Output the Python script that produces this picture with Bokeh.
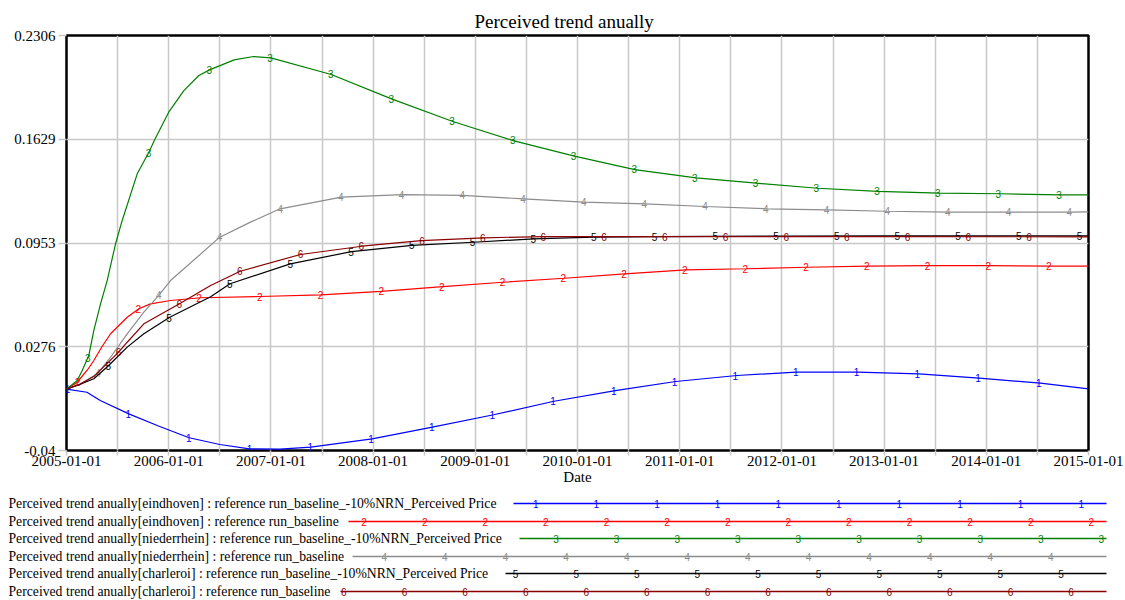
import numpy as np
from bokeh.plotting import figure
from bokeh.models import Range1d, FixedTicker
from bokeh.layouts import column
from bokeh.embed import file_html
from bokeh.resources import INLINE
from bokeh.core.properties import value

# ---------------- data ----------------
TITLE = "Perceived trend anually"
X_LABEL = "Date"
years = list(range(2005, 2016))
x_tick_labels = [f"{y}-01-01" for y in years]
half_years = [y + 0.5 for y in range(2005, 2015)]
y_ticks = [-0.04, 0.0276, 0.0953, 0.1629, 0.2306]
y_tick_labels = ["-0.04", "0.0276", "0.0953", "0.1629", "0.2306"]

series_names = [
    "Perceived trend anually[eindhoven] : reference run_baseline_-10%NRN_Perceived Price",
    "Perceived trend anually[eindhoven] : reference run_baseline",
    "Perceived trend anually[niederrhein] : reference run_baseline_-10%NRN_Perceived Price",
    "Perceived trend anually[niederrhein] : reference run_baseline",
    "Perceived trend anually[charleroi] : reference run_baseline_-10%NRN_Perceived Price",
    "Perceived trend anually[charleroi] : reference run_baseline",
]
series_marks = ["1", "2", "3", "4", "5", "6"]
series_colors = ["#0000ff", "#ff0000", "#008000", "#8c8c8c", "#000000", "#8b0000"]

t1 = [2005.0, 2005.2, 2005.33, 2005.61, 2005.90, 2006.20, 2006.50, 2006.79, 2007.09, 2007.39,
      2007.99, 2008.58, 2009.18, 2009.77, 2010.37, 2010.96, 2011.56, 2012.14, 2012.74, 2013.34,
      2013.93, 2014.53, 2015.0]
v1 = [0.0, -0.002, -0.0074, -0.0161, -0.0240, -0.0317, -0.0361, -0.0389, -0.0391, -0.0378,
      -0.0324, -0.0248, -0.0167, -0.0079, -0.0009, 0.0050, 0.0089, 0.0111, 0.0111, 0.0100,
      0.0072, 0.0039, 0.0002]

t2 = [2005.0, 2005.105, 2005.21, 2005.267, 2005.35, 2005.431, 2005.594, 2005.708, 2005.822,
      2006.018, 2006.312, 2006.89, 2007.49, 2008.08, 2008.68, 2009.27, 2009.87, 2010.46, 2011.06,
      2011.65, 2012.24, 2012.84, 2013.43, 2014.03, 2014.62, 2015.0]
v2 = [0.0, 0.0045, 0.0130, 0.0187, 0.0280, 0.0361, 0.0469, 0.0524, 0.0556,
      0.0578, 0.0596, 0.0604, 0.0615, 0.0637, 0.0669, 0.0697, 0.0723, 0.0752, 0.0778,
      0.0785, 0.0795, 0.0802, 0.0806, 0.0806, 0.0802, 0.0802]

t3 = [2005.0, 2005.105, 2005.154, 2005.218, 2005.267, 2005.333, 2005.398, 2005.48, 2005.545,
      2005.692, 2005.806, 2005.864, 2006.0, 2006.148, 2006.295, 2006.40, 2006.64, 2006.83, 2007.0,
      2007.59, 2008.18, 2008.78, 2009.37, 2009.97, 2010.56, 2011.16, 2011.75, 2012.35, 2012.94,
      2013.54, 2014.13, 2014.72, 2015.0]
v3 = [0.0, 0.0056, 0.0122, 0.0219, 0.0382, 0.0556, 0.0708, 0.0948, 0.1100,
      0.1404, 0.1545, 0.1628, 0.1806, 0.1947, 0.2045, 0.2082, 0.2147, 0.2169, 0.2160,
      0.2052, 0.1893, 0.1745, 0.1621, 0.1519, 0.1432, 0.1378, 0.1343, 0.1310, 0.1289,
      0.1278, 0.1274, 0.1267, 0.1267]

t4 = [2005.0, 2005.14, 2005.30, 2005.431, 2005.594, 2005.757, 2005.903, 2006.018, 2006.50, 2006.80,
      2007.09, 2007.69, 2008.29, 2008.87, 2009.47, 2010.06, 2010.66, 2011.25, 2011.85, 2012.44,
      2013.03, 2013.63, 2014.23, 2014.82, 2015.0]
v4 = [0.0, 0.0035, 0.0100, 0.0208, 0.0361, 0.0502, 0.0611, 0.0708, 0.0991, 0.1089,
      0.1176, 0.1252, 0.1269, 0.1263, 0.1241, 0.1219, 0.1208, 0.1191, 0.1176, 0.1169,
      0.1160, 0.1154, 0.1154, 0.1154, 0.1156]

t5 = [2005.0, 2005.13, 2005.267, 2005.40, 2005.594, 2005.757, 2006.01, 2006.41, 2006.60, 2007.19,
      2007.79, 2008.38, 2008.98, 2009.57, 2010.16, 2010.75, 2012.0, 2013.0, 2015.0]
v5 = [0.0, 0.0030, 0.0068, 0.0146, 0.0274, 0.0361, 0.0469, 0.0603, 0.0687, 0.0817,
      0.0897, 0.0937, 0.0958, 0.0980, 0.0991, 0.0995, 0.0998, 0.1000, 0.1000]

t6 = [2005.0, 2005.13, 2005.267, 2005.51, 2005.594, 2005.757, 2006.11, 2006.41, 2006.70, 2007.29,
      2007.89, 2008.47, 2009.08, 2009.67, 2011.0, 2013.0, 2015.0]
v6 = [0.0, 0.0032, 0.0082, 0.0241, 0.0306, 0.0426, 0.0558, 0.0676, 0.0769, 0.0878,
      0.0932, 0.0969, 0.0987, 0.0995, 0.0995, 0.0995, 0.0993]

series_t = [t1, t2, t3, t4, t5, t6]
series_v = [v1, v2, v3, v4, v5, v6]

# ---------------- style ----------------
SERIF = "Liberation Serif"
SANS = "Liberation Sans"
GRID = "#c8c8c8"
W = 1125
H_MAIN = 492
H_LEG = 108

p = figure(width=W, height=H_MAIN, output_backend="svg", toolbar_location=None,
           x_range=Range1d(2005, 2015), y_range=Range1d(-0.04, 0.2306),
           min_border_left=66, min_border_right=37, min_border_top=35, min_border_bottom=42,
           frame_align=False)
p.background_fill_color = "white"
p.border_fill_color = "white"
p.outline_line_color = "black"
p.outline_line_width = 2.5

p.title.text = TITLE
p.title.align = "left"
p.title.offset = 408
p.title.text_font = SERIF
p.title.text_font_size = "19px"
p.title.text_font_style = "normal"
p.title.text_color = "black"
p.title.standoff = 7

p.xaxis.ticker = FixedTicker(ticks=years, minor_ticks=half_years)
p.xaxis.major_label_overrides = dict(zip(years, x_tick_labels))
p.xaxis.axis_label = X_LABEL
p.yaxis.ticker = FixedTicker(ticks=y_ticks, minor_ticks=[])
p.yaxis.major_label_overrides = dict(zip(y_ticks, y_tick_labels))

for ax in (p.xaxis, p.yaxis):
    ax.axis_line_color = None
    ax.major_tick_line_color = GRID
    ax.major_tick_line_width = 1.5
    ax.minor_tick_line_color = GRID
    ax.minor_tick_line_width = 1.5
    ax.major_tick_in = 0
    ax.minor_tick_in = 0
    ax.major_label_text_font = SERIF
    ax.major_label_text_font_size = "15px"
    ax.major_label_text_color = "black"
    ax.axis_label_text_font = SERIF
    ax.axis_label_text_font_size = "15px"
    ax.axis_label_text_font_style = "normal"
    ax.axis_label_text_color = "black"

p.xaxis.major_tick_out = 5
p.xaxis.minor_tick_out = 5
p.xaxis.major_label_standoff = 0
p.xaxis.axis_label_standoff = 0
p.yaxis.major_tick_out = 8
p.yaxis.minor_tick_out = 0
p.yaxis.major_label_standoff = 3

p.xgrid.grid_line_color = GRID
p.xgrid.grid_line_width = 1.5
p.xgrid.minor_grid_line_color = GRID
p.xgrid.minor_grid_line_width = 1.5
p.ygrid.grid_line_color = GRID
p.ygrid.grid_line_width = 1.5

PX_PER_YEAR = 1022.0 / 10.0
mk_step = 60.7 / PX_PER_YEAR
for i in range(6):
    t = series_t[i]
    v = series_v[i]
    c = series_colors[i]
    p.line(t, v, line_color=c, line_width=1.2)
    t0 = 2005 + (1.0 + 10.2 * i) / PX_PER_YEAR
    tk = np.arange(t0, 2015.0001, mk_step)
    vk = np.interp(tk, t, v)
    p.text(x=tk, y=vk, text=[series_marks[i]] * len(tk), text_color=c,
           text_font=value(SANS), text_font_size="10px",
           text_align="center", text_baseline="middle")

# ---------------- legend figure ----------------
lg = figure(width=W, height=H_LEG, output_backend="svg", toolbar_location=None,
            x_range=Range1d(0, W), y_range=Range1d(H_LEG, 0),
            x_axis_type=None, y_axis_type=None,
            min_border_left=0, min_border_right=0, min_border_top=0, min_border_bottom=0,
            frame_align=False)
lg.grid.visible = False
lg.outline_line_color = None
lg.background_fill_color = "white"
lg.border_fill_color = "white"

row_y = [11, 29, 46, 64, 81, 99]
line_start = [513, 348, 519, 352, 505, 340]
line_end = 1106
lg.text(x=[8] * 6, y=row_y, text=series_names, text_color="black",
        text_font=value(SERIF), text_font_size="13.7px",
        text_align="left", text_baseline="middle")
lg.segment(x0=line_start, y0=row_y, x1=[line_end] * 6, y1=row_y,
           line_color=series_colors, line_width=1.3)
for i in range(6):
    xs = []
    k = 0
    while True:
        xp = 50.5 + 10.1 * i + 60.6 * k
        k += 1
        if xp > line_end:
            break
        if xp >= line_start[i] + 2:
            xs.append(xp)
    lg.text(x=xs, y=[row_y[i]] * len(xs), text=[series_marks[i]] * len(xs),
            text_color=series_colors[i], text_font=value(SANS), text_font_size="10px",
            text_align="center", text_baseline="middle")

layout = column(p, lg, spacing=0)
open("out.html", "w").write(file_html(layout, INLINE))
